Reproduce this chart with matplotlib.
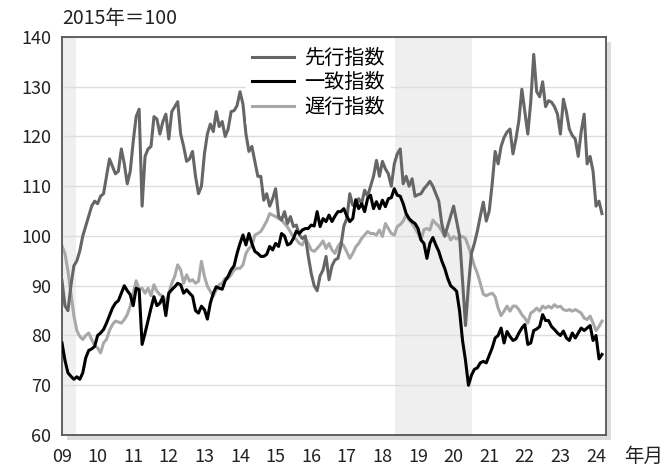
import matplotlib
matplotlib.use("Agg")
import matplotlib.pyplot as plt
from matplotlib.patches import Rectangle
import numpy as np

plt.rcParams['font.family'] = ['Noto Sans CJK JP', 'DejaVu Sans']

# Monthly values, Jan 2009 - Mar 2024
leading = [
    91, 86, 85, 90, 94, 95, 97, 100, 102, 104, 106, 107,            # 2009
    106.5, 108, 108.5, 112, 115.5, 114, 112.5, 113, 117.5, 114.5, 110.5, 113,  # 2010
    119, 124, 125.5, 106, 116, 117.5, 118, 124, 123.5, 120.5, 123, 124.5,      # 2011
    119.5, 125, 126, 127, 120.5, 118, 115, 115.5, 117, 112, 108.5, 110,        # 2012
    116.5, 120.5, 122.5, 121, 125, 122, 123, 120, 121.5, 125, 125.2, 126.2,    # 2013
    129, 126.5, 120.5, 117, 118, 115, 112, 112, 107.2, 108.5, 106, 107.5,      # 2014
    109.5, 104, 103.2, 104.9, 102.5, 103.9, 101.9, 102.2, 100.2, 99.5, 100, 96,  # 2015
    92.5, 90, 89, 92, 93.2, 95.9, 91.2, 94, 95.2, 95.5, 98, 102,               # 2016
    103.5, 108.5, 106.2, 106, 107.5, 106.5, 109.2, 108, 110, 112, 115.2, 112,  # 2017
    115, 113.5, 112.5, 110, 114.5, 116.5, 117.5, 110.5, 112, 110, 111.5, 108,  # 2018
    108.3, 108.5, 109.5, 110.2, 111, 110, 108.5, 107, 102.5, 100, 102, 104,    # 2019
    106, 103, 100, 91, 82, 90, 96.5, 98.5, 101, 104, 106.8, 103,               # 2020
    105, 110.5, 117, 114.5, 118, 119.8, 120.9, 121.5, 116.5, 119.5, 123.2, 129.5,  # 2021
    125, 120.5, 127, 136.5, 129, 128, 131, 126, 127.2, 126.9, 126, 124.5,      # 2022
    120.5, 127.5, 125, 121.5, 120.2, 119.5, 116, 121, 124.5, 114.5, 116, 113,  # 2023
    106, 107, 104.5,                                                           # 2024
]
coincident = [
    78.5, 75, 72.5, 71.8, 71.2, 71.7, 71.2, 72.5, 75.5, 77, 77.3, 77.8,
    80, 80.5, 81.2, 82.5, 84, 85.5, 86.5, 87, 88.5, 90, 89, 88.2,
    86, 89.5, 89.2, 78.2, 80.5, 83, 85.5, 87.8, 86, 86.5, 87.8, 84,
    88.5, 89.2, 89.8, 90.5, 90.2, 88.5, 89.2, 88.5, 87.9, 85, 84.5, 85.9,
    85.2, 83.3, 86.5, 88.5, 89.8, 89.5, 89.3, 91, 91.9, 93.2, 94, 96.5,
    98.5, 100.2, 98.2, 100.5, 98.5, 96.9, 96.5, 95.9, 95.9, 96.3, 97.9, 97.2,
    98.5, 97.9, 100.5, 100, 98.2, 98.5, 99.5, 101, 100.5, 101.2, 101.5, 101.5,
    102.2, 102, 104.9, 101.9, 103.5, 102.9, 104.2, 102.9, 104, 104.9, 104.9, 105.5,
    104, 102.9, 103.5, 107.3, 105.5, 106.5, 104.9, 107.5, 108.2, 105.5, 106.9, 105.5,
    107.2, 105.9, 107.5, 107.7, 109.5, 108.2, 108, 106.5, 104.5, 103.5, 102.9, 102.5,
    101.5, 99.2, 98.5, 95.5, 98.5, 99.7, 98.2, 96.9, 95, 93.5, 91.5, 90,
    89.5, 88.9, 85, 79, 75, 70, 72, 73.2, 73.5, 74.5, 74.8, 74.5,
    76, 77.5, 79.5, 80, 81.5, 78.5, 80.8, 79.8, 79, 79.3, 80.5, 81.5,
    82.2, 78.2, 78.5, 81, 81.3, 81.8, 84.2, 83, 83, 81.8, 81.2, 80.5,
    80, 80.9, 79.5, 79, 80.5, 79.5, 80.5, 81.5, 81, 81.5, 82, 79,
    80, 75.3, 76.2,
]
lagging = [
    98, 96.5, 93, 88.5, 84, 81, 79.8, 79.2, 80, 80.5, 79.2, 78,
    77.5, 76.5, 78.5, 79.2, 81, 82.2, 82.9, 82.7, 82.5, 83.2, 84.2, 85.9,
    88.5, 91, 89.3, 89.5, 88.5, 89.5, 88, 90.2, 88.9, 88.2, 87.9, 86.5,
    88.5, 90.5, 91.9, 94.2, 93.2, 90.5, 92.2, 90.9, 91.2, 90.5, 90.9, 94.9,
    91.9, 89.9, 88.9, 87.9, 89.2, 90.2, 90.5, 91.5, 91.5, 92.2, 93.2, 93.5,
    93.5, 94.2, 96.5, 97.5, 98, 100.2, 100.5, 100.9, 101.9, 103, 104.5, 104.2,
    103.9, 103.5, 103.2, 102.5, 101.8, 100.8, 99.8, 99.3, 98.5, 98.2, 99.5, 98.5,
    97.2, 96.9, 97.5, 98.2, 99, 97.5, 98.5, 97.2, 96.5, 97.9, 98.7, 98,
    96.8, 95.5, 96.5, 97.8, 98.5, 99.5, 100.2, 100.9, 100.5, 100.5, 100.2, 101.2,
    99.9, 102.5, 101.5, 100.5, 100.2, 101.9, 102.3, 103, 104.2, 103.2, 102.5, 101.5,
    100.5, 99.2, 101.3, 101.5, 101.2, 103.2, 102.5, 102, 101, 99.9, 100.5, 99.2,
    99.9, 99.4, 99.9, 99.9, 99.5, 97.9, 96, 94, 92.5, 90.5, 88.3, 88,
    88.3, 88.5, 87.8, 85.5, 84, 84.9, 85.9, 84.9, 85.9, 85.9, 85.2, 84.2,
    83.5, 82.5, 84.5, 84.9, 85.5, 84.9, 85.9, 85.5, 85.9, 85.5, 86.2, 85.7,
    85.9, 85.2, 85, 85.2, 84.9, 85.2, 84.9, 84.5, 83.5, 83.2, 83.9, 82.5,
    81, 81.8, 82.9,
]
series_names = ['先行指数', '一致指数', '遅行指数']
year_labels = ['09', '10', '11', '12', '13', '14', '15', '16', '17', '18',
               '19', '20', '21', '22', '23', '24']
recessions = [(2009.0, 2009.39), (2018.35, 2020.53)]

start_year = 2009
x = start_year + np.arange(len(leading)) / 12.0

W, H = 663, 471
fig = plt.figure(figsize=(W / 100, H / 100), dpi=100)
l, r, t, b = 62, 606, 37, 435
ax_rect = [l / W, 1 - b / H, (r - l) / W, (b - t) / H]

# drop shadow
off = 5
shadow = Rectangle((ax_rect[0] + off / W, ax_rect[1] - off / H), ax_rect[2], ax_rect[3],
                   transform=fig.transFigure, facecolor='#dcdcdc', edgecolor='none', zorder=0)
fig.patches.append(shadow)

ax = fig.add_axes(ax_rect, zorder=1)
ax.set_facecolor('white')

for s, e in recessions:
    ax.axvspan(s, e, color='#efefef', lw=0, zorder=0)

ax.set_ylim(60, 140)
ax.set_xlim(2009.0, 2024.28)
ax.set_yticks(range(60, 141, 10))
ax.yaxis.grid(True, color='#dddddd', lw=1.0, zorder=0.5)
ax.set_axisbelow(True)

colors = ['#666666', '#000000', '#a8a8a8']
h_lag, = ax.plot(x, lagging, color=colors[2], lw=2.2, zorder=2)
h_lead, = ax.plot(x, leading, color=colors[0], lw=2.2, zorder=3)
h_coin, = ax.plot(x, coincident, color=colors[1], lw=2.2, zorder=4)

ax.set_xticks([start_year + i for i in range(len(year_labels))])
ax.set_xticklabels(year_labels)
ax.tick_params(axis='both', length=0, labelsize=13, colors='#222222')
ax.tick_params(axis='x', pad=9)
ax.tick_params(axis='y', pad=8)

for sp in ax.spines.values():
    sp.set_color('#555555')
    sp.set_linewidth(1.3)

leg = ax.legend([h_lead, h_coin, h_lag], series_names,
                loc='upper left', bbox_to_anchor=(0.338, 0.987), fontsize=14.5,
                handlelength=2.1, handletextpad=0.5, labelspacing=0.16,
                frameon=True, borderpad=0.3, borderaxespad=0.0)
leg.get_frame().set_facecolor('white')
leg.get_frame().set_edgecolor('none')
leg.get_frame().set_alpha(1)
leg.get_frame().set_boxstyle('square', pad=0)
leg.set_zorder(5)

fig.text(62 / W, 1 - 18 / H, '2015年＝100', fontsize=14, ha='left', va='center', color='#222222')
fig.text(624 / W, 1 - 456 / H, '年月', fontsize=14, ha='left', va='center', color='#222222')

fig.savefig('out.png', dpi=100, facecolor='white')
